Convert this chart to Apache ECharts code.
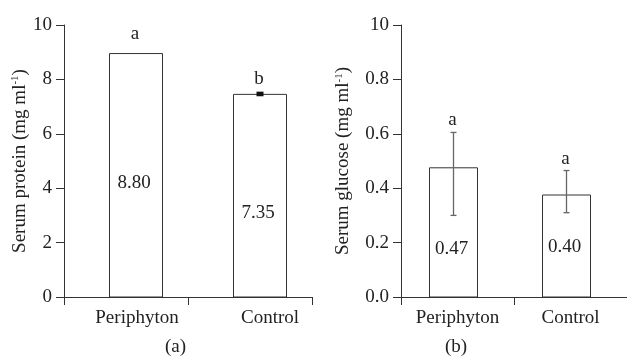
<!DOCTYPE html>
<html>
<head>
<meta charset="utf-8">
<script src="https://cdn.jsdelivr.net/npm/echarts@6/dist/echarts.min.js"></script>
<style>
  html, body { margin: 0; padding: 0; background: #fff; }
  #main { width: 627px; height: 361px; }
</style>
</head>
<body>
<div id="main"></div>
<script>
// data
const categories = ['Periphyton', 'Control'];

const proteinMean = [8.95, 7.45];
const proteinLow = [null, 7.38];
const proteinHigh = [null, 7.55];
const proteinValueLabels = ['8.80', '7.35'];
const proteinLetters = ['a', 'b'];
const proteinTicks = ['0', '2', '4', '6', '8', '10'];

const glucoseMean = [0.475, 0.375];
const glucoseLow = [0.30, 0.31];
const glucoseHigh = [0.605, 0.465];
const glucoseValueLabels = ['0.47', '0.40'];
const glucoseLetters = ['a', 'a'];
const glucoseTicks = ['0.0', '0.2', '0.4', '0.6', '0.8', '10'];

const FONT = '"Liberation Serif", "Times New Roman", serif';
const AXIS_COLOR = '#333';
const TEXT_COLOR = '#222';

const mychart = echarts.init(document.getElementById('main'));

// draws bar + value text + error bar + letter for one panel
function barRenderer(means, lows, highs, valueLabels, letters, lay) {
    return function (params, api) {
        const i = params.dataIndex;
        const top = api.coord([i, means[i]]);
        const base = api.coord([i, 0]);
        const band = api.size([1, 0])[0];
        const w = lay.barWidth;
        const cx = top[0] + lay.shift;
        const h = base[1] - top[1];
        const children = [
            {
                type: 'rect',
                shape: { x: cx - w / 2, y: top[1], width: w, height: h },
                style: { fill: '#fff', stroke: AXIS_COLOR, lineWidth: 1 }
            },
            {
                type: 'text',
                x: cx - 2,
                y: top[1] + h * lay.labelAt[i],
                style: {
                    text: valueLabels[i], fill: TEXT_COLOR, fontFamily: FONT, fontSize: 19,
                    align: 'center', verticalAlign: 'middle'
                }
            }
        ];
        let letterY = top[1] - lay.letterGap[i];
        if (lows[i] != null) {
            const lo = api.coord([i, lows[i]])[1];
            const hi = api.coord([i, highs[i]])[1];
            if (lay.errStyle === 'box') {
                children.push({
                    type: 'rect',
                    shape: { x: cx - 3.5, y: hi, width: 7, height: lo - hi },
                    style: { fill: '#111' }
                });
            } else {
                const st = { stroke: '#666', lineWidth: 1.3 };
                children.push({ type: 'line', shape: { x1: cx, y1: hi, x2: cx, y2: lo }, style: st });
                children.push({ type: 'line', shape: { x1: cx - 3, y1: hi, x2: cx + 3, y2: hi }, style: st });
                children.push({ type: 'line', shape: { x1: cx - 3, y1: lo, x2: cx + 3, y2: lo }, style: st });
            }
            letterY = hi - lay.letterGap[i];
        }
        children.push({
            type: 'text',
            x: cx - 1,
            y: letterY,
            style: {
                text: letters[i], fill: TEXT_COLOR, fontFamily: FONT, fontSize: 19,
                align: 'center', verticalAlign: 'bottom'
            }
        });
        return { type: 'group', children: children };
    };
}

function makeXAxis(gridIndex, pads) {
    return {
        type: 'category',
        gridIndex: gridIndex,
        data: categories,
        boundaryGap: true,
        axisLine: { lineStyle: { color: AXIS_COLOR, width: 1 } },
        axisTick: { show: true, length: 8, lineStyle: { color: AXIS_COLOR } },
        axisLabel: {
            margin: 12,
            formatter: (v, idx) => '{c' + idx + '|' + v + '}',
            rich: {
                c0: { fontFamily: FONT, fontSize: 19, color: TEXT_COLOR, padding: [0, 0, 0, pads[0]] },
                c1: { fontFamily: FONT, fontSize: 19, color: TEXT_COLOR, padding: [0, 0, 0, pads[1]] }
            }
        }
    };
}

function makeYAxis(gridIndex, max, interval, ticks, nameText, nameGap) {
    return {
        type: 'value',
        gridIndex: gridIndex,
        min: 0,
        max: max,
        interval: interval,
        name: '{n|' + nameText + '}{s|-1}{n|)}',
        nameLocation: 'middle',
        nameRotate: 90,
        nameGap: nameGap,
        nameTextStyle: {
            rich: {
                n: { fontFamily: FONT, fontSize: 19, color: TEXT_COLOR },
                s: { fontFamily: FONT, fontSize: 11, color: TEXT_COLOR, verticalAlign: 'top', padding: [0, 0, 8, 0] }
            }
        },
        splitLine: { show: false },
        axisLine: { show: true, lineStyle: { color: AXIS_COLOR, width: 1 } },
        axisTick: { show: true, length: 8, lineStyle: { color: AXIS_COLOR } },
        axisLabel: {
            margin: 12,
            fontFamily: FONT,
            fontSize: 19,
            color: TEXT_COLOR,
            formatter: (v) => ticks[Math.round(v / interval)]
        }
    };
}

let option = {
    backgroundColor: '#fff',
    animation: false,
    grid: [
        { left: 64, top: 25, width: 248, height: 272 },
        { left: 401, top: 25, width: 228, height: 272 }
    ],
    xAxis: [
        makeXAxis(0, [22, 40]),
        makeXAxis(1, [0, 0])
    ],
    yAxis: [
        makeYAxis(0, 10, 2, proteinTicks, 'Serum protein (mg ml', 32),
        makeYAxis(1, 1.0, 0.2, glucoseTicks, 'Serum glucose (mg ml', 48)
    ],
    series: [
        {
            type: 'custom',
            xAxisIndex: 0,
            yAxisIndex: 0,
            renderItem: barRenderer(proteinMean, proteinLow, proteinHigh, proteinValueLabels, proteinLetters,
                { shift: 10, barWidth: 53, labelAt: [0.53, 0.585], letterGap: [10, 3], errStyle: 'box' }),
            encode: { x: 0, y: 1 },
            data: categories.map((c, i) => [i, proteinMean[i]])
        },
        {
            type: 'custom',
            xAxisIndex: 1,
            yAxisIndex: 1,
            renderItem: barRenderer(glucoseMean, glucoseLow, glucoseHigh, glucoseValueLabels, glucoseLetters,
                { shift: -4, barWidth: 48, labelAt: [0.63, 0.51], letterGap: [3, 2], errStyle: 'line' }),
            encode: { x: 0, y: 1 },
            data: categories.map((c, i) => [i, glucoseMean[i]])
        }
    ],
    graphic: [
        {
            type: 'text', left: 165, top: 338,
            style: { text: '(a)', fontFamily: FONT, fontSize: 19, fill: TEXT_COLOR }
        },
        {
            type: 'text', left: 445, top: 338,
            style: { text: '(b)', fontFamily: FONT, fontSize: 19, fill: TEXT_COLOR }
        }
    ]
};
mychart.setOption(option);
window.addEventListener('resize', () => {
    mychart.resize();
});
</script>
</body>
</html>
